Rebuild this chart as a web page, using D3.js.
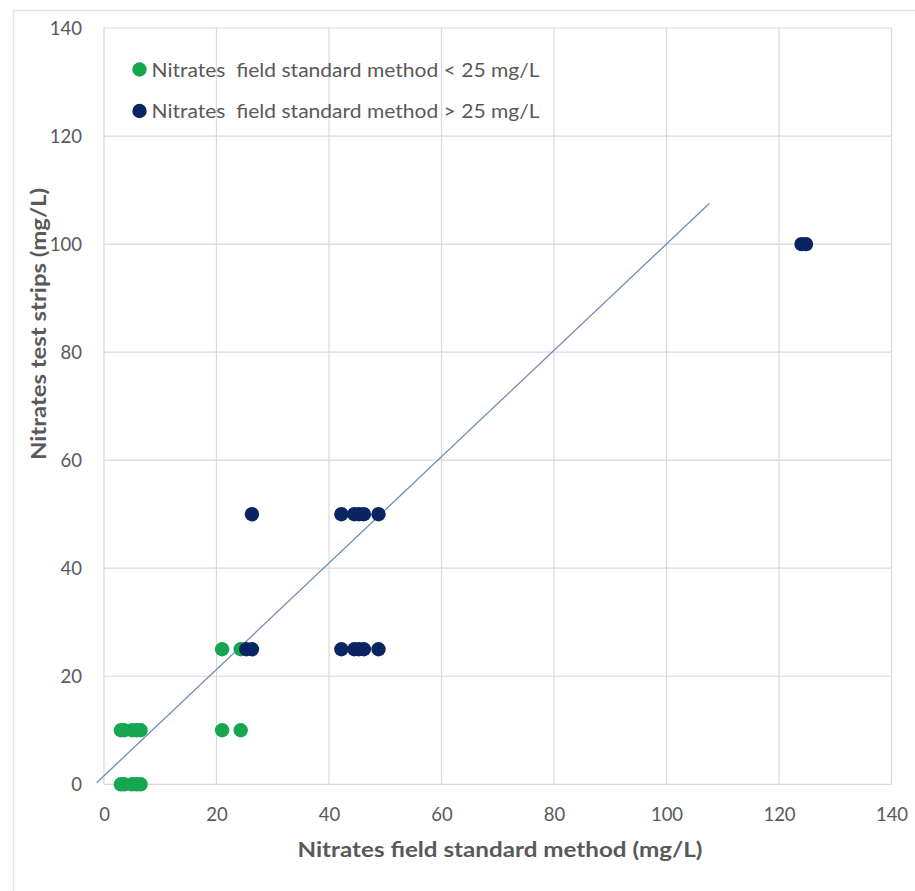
<!DOCTYPE html>
<html>
<head>
<meta charset="utf-8">
<script src="https://cdn.jsdelivr.net/npm/d3@7"></script>
<style>
  html, body { margin: 0; padding: 0; background: #fff; }
  svg { display: block; font-family: Lato, "Open Sans", sans-serif; }
  text { white-space: pre; }
</style>
</head>
<body>
<svg id="chart" width="915" height="891"></svg>
<script>
// ---- data ----
const xTicks = [0, 20, 40, 60, 80, 100, 120, 140];
const yTicks = [0, 20, 40, 60, 80, 100, 120, 140];

const lowX = [3, 3.6, 5, 5.8, 6.5, 3, 3.6, 5, 5.8, 6.5, 21, 24.3, 21, 24.3];
const lowY = [0, 0, 0, 0, 0, 10, 10, 10, 10, 10, 10, 10, 25, 25];

const highX = [25.3, 26.3, 26.3, 42.2, 44.5, 45.3, 46.2, 48.8, 42.2, 44.5, 45.3, 46.2, 48.8, 124, 124.8];
const highY = [25, 25, 50, 50, 50, 50, 50, 50, 25, 25, 25, 25, 25, 100, 100];

const trendX = [-1.3, 107.6];
const trendY = [0.3, 107.5];

const seriesNames = ["Nitrates  field standard method < 25 mg/L", "Nitrates  field standard method > 25 mg/L"];
const seriesColors = ["#16a650", "#0b2562"];

const xTitle = "Nitrates field standard method (mg/L)";
const yTitle = "Nitrates test strips (mg/L)";

// ---- drawing ----
const svg = d3.select("#chart");
const x = d3.scaleLinear().domain([0, 140]).range([104, 891.5]);
const y = d3.scaleLinear().domain([0, 140]).range([784.3, 28]);

// outer frame (top + left)
svg.append("path").attr("d", "M13.5,891 V10.5 H915")
  .attr("fill", "none").attr("stroke", "#e6e6e6").attr("stroke-width", 1.5);

// gridlines
const grid = svg.append("g").attr("stroke", "#d9d9d9").attr("stroke-width", 1.2);
grid.selectAll("line.v").data(xTicks).join("line")
  .attr("x1", d => x(d)).attr("x2", d => x(d))
  .attr("y1", y(0)).attr("y2", y(140));
grid.selectAll("line.h").data(yTicks).join("line")
  .attr("x1", x(0)).attr("x2", x(140))
  .attr("y1", d => y(d)).attr("y2", d => y(d));

// axes (labels only)
const xAxis = svg.append("g").attr("transform", `translate(0,${y(0)})`)
  .call(d3.axisBottom(x).tickValues(xTicks).tickSize(0).tickPadding(0).tickFormat(d3.format("d")));
xAxis.select(".domain").remove();
xAxis.selectAll("text").attr("y", 37).attr("dy", 0)
  .attr("font-size", 18.5).attr("fill", "#595959").attr("font-family", "Lato, sans-serif");

const yAxis = svg.append("g").attr("transform", `translate(82,0)`)
  .call(d3.axisLeft(y).tickValues(yTicks).tickSize(0).tickPadding(0).tickFormat(d3.format("d")));
yAxis.select(".domain").remove();
yAxis.selectAll("text").attr("x", 0).attr("dy", "0.36em")
  .attr("font-size", 18.5).attr("fill", "#595959").attr("font-family", "Lato, sans-serif");

// trend line
svg.append("line")
  .attr("x1", x(trendX[0])).attr("y1", y(trendY[0]))
  .attr("x2", x(trendX[1])).attr("y2", y(trendY[1]))
  .attr("stroke", "#6f8db3").attr("stroke-width", 1.3);

// points
const low = lowX.map((v, i) => ({x: v, y: lowY[i]}));
const high = highX.map((v, i) => ({x: v, y: highY[i]}));
svg.append("g").selectAll("circle").data(low).join("circle")
  .attr("cx", d => x(d.x)).attr("cy", d => y(d.y)).attr("r", 7.2)
  .attr("fill", seriesColors[0]);
svg.append("g").selectAll("circle").data(high).join("circle")
  .attr("cx", d => x(d.x)).attr("cy", d => y(d.y)).attr("r", 7.2)
  .attr("fill", seriesColors[1]);

// legend
const legY = [69.5, 111];
const leg = svg.append("g");
seriesNames.forEach((name, i) => {
  leg.append("circle").attr("cx", 139.5).attr("cy", legY[i]).attr("r", 7.2).attr("fill", seriesColors[i]);
  leg.append("text").attr("x", 151.5).attr("y", legY[i]).attr("dy", "0.36em")
    .attr("font-size", 19.5).attr("fill", "#595959")
    .attr("textLength", 388).attr("lengthAdjust", "spacingAndGlyphs").text(name);
});

// axis titles
svg.append("text").attr("x", 500).attr("y", 857).attr("text-anchor", "middle")
  .attr("font-size", 20).attr("font-weight", "bold").attr("fill", "#595959")
  .attr("textLength", 405).attr("lengthAdjust", "spacingAndGlyphs").text(xTitle);
svg.append("text").attr("transform", "translate(46,324) rotate(-90)").attr("text-anchor", "middle")
  .attr("font-size", 20).attr("font-weight", "bold").attr("fill", "#595959")
  .attr("textLength", 272).attr("lengthAdjust", "spacingAndGlyphs").text(yTitle);
</script>
</body>
</html>
